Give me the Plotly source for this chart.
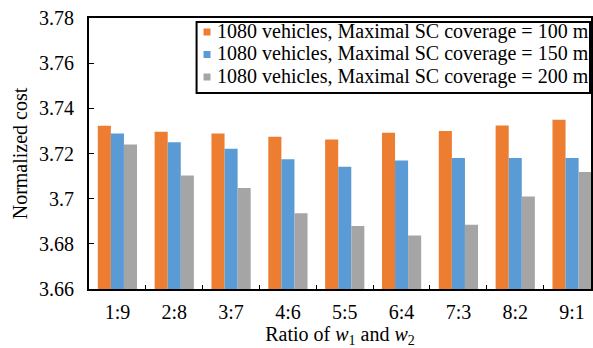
import plotly.graph_objects as go

# Weight ratios of w1 and w2
ratios = ["1:9", "2:8", "3:7", "4:6", "5:5", "6:4", "7:3", "8:2", "9:1"]

# Normalized cost for 1080 vehicles at each maximal SC coverage
cost_100m = [3.7323, 3.7296, 3.7289, 3.7274, 3.7262, 3.7292, 3.7300, 3.7324, 3.7349]
cost_150m = [3.7289, 3.7250, 3.7221, 3.7175, 3.7141, 3.7169, 3.7180, 3.7180, 3.7180]
cost_200m = [3.7240, 3.7103, 3.7047, 3.6935, 3.6879, 3.6837, 3.6885, 3.7010, 3.7118]

series_names = [
    "1080 vehicles, Maximal SC coverage = 100 m",
    "1080 vehicles, Maximal SC coverage = 150 m",
    "1080 vehicles, Maximal SC coverage = 200 m",
]
colors = ["#ED7D31", "#5B9BD5", "#A5A5A5"]

font_family = "Liberation Serif, Times New Roman, serif"

W, H = 593, 348
M_L, M_R, M_T, M_B = 89, 0, 18, 59
PLOT_W = W - M_L - M_R
PLOT_H = H - M_T - M_B


def px_x(px):
    """Horizontal pixel position -> paper coordinate."""
    return (px - M_L) / PLOT_W


def px_y(py):
    """Vertical pixel position (from top) -> paper coordinate."""
    return (H - M_B - py) / PLOT_H


fig = go.Figure()
for name, values, color in zip(series_names, [cost_100m, cost_150m, cost_200m], colors):
    fig.add_trace(go.Bar(
        x=ratios, y=values, name=name,
        marker=dict(color=color, line=dict(width=0)),
        showlegend=False,
    ))

# Compact boxed legend in the upper right of the plot area
shapes = [dict(
    type="rect", xref="paper", yref="paper",
    x0=px_x(197), x1=px_x(592), y0=px_y(93), y1=px_y(22),
    line=dict(color="black", width=2), fillcolor="white", layer="above",
)]
annotations = []
row_top, row_step = 32, 22.5
for i, (name, color) in enumerate(zip(series_names, colors)):
    cy = row_top + i * row_step
    shapes.append(dict(
        type="rect", xref="paper", yref="paper",
        x0=px_x(204), x1=px_x(211), y0=px_y(cy + 3.5), y1=px_y(cy - 3.5),
        line=dict(width=0), fillcolor=color, layer="above",
    ))
    annotations.append(dict(
        xref="paper", yref="paper", x=px_x(216), y=px_y(cy - 1),
        xanchor="left", yanchor="middle", showarrow=False,
        text=name, font=dict(family=font_family, size=20, color="black"),
    ))

fig.update_layout(
    width=W, height=H,
    margin=dict(l=M_L, r=M_R, t=M_T, b=M_B),
    paper_bgcolor="white", plot_bgcolor="white",
    font=dict(family=font_family, size=20, color="black"),
    barmode="group", bargap=0.31, bargroupgap=0,
    showlegend=False,
    shapes=shapes,
    annotations=annotations,
    xaxis=dict(
        type="category", range=[-0.5, 8.333],
        showline=True, linecolor="black", linewidth=2, mirror=True,
        ticks="inside", tickson="boundaries", ticklen=4, tickcolor="black",
        ticklabelstandoff=4,
        showgrid=False,
        title=dict(text="Ratio of <i>w</i><sub>1</sub> and <i>w</i><sub>2</sub>",
                   font=dict(size=20), standoff=11),
    ),
    yaxis=dict(
        range=[3.66, 3.78], tickvals=[3.66, 3.68, 3.70, 3.72, 3.74, 3.76, 3.78],
        ticktext=["3.66", "3.68", "3.7", "3.72", "3.74", "3.76", "3.78"],
        showline=True, linecolor="black", linewidth=2, mirror=True,
        ticks="inside", ticklen=5, tickcolor="black",
        ticklabelstandoff=9,
        showgrid=False, zeroline=False,
        title=dict(text="Normalized cost", font=dict(size=20), standoff=6),
    ),
)

fig.write_html("out.html")
